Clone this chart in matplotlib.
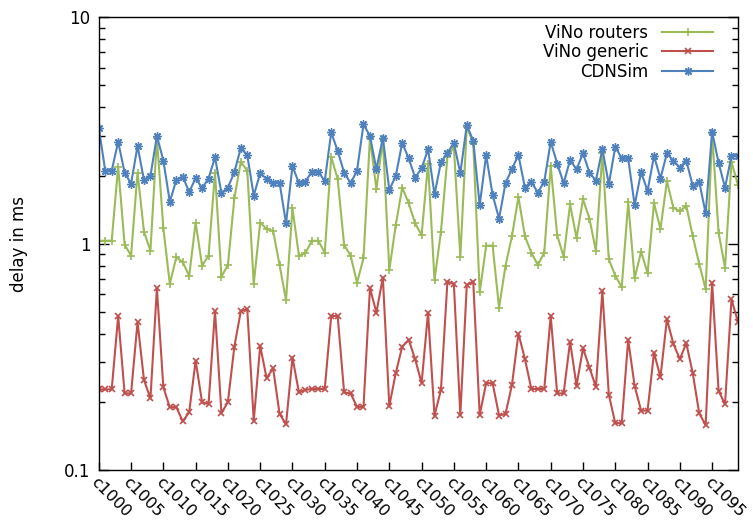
import matplotlib
matplotlib.use("Agg")
import matplotlib.pyplot as plt
from matplotlib.ticker import FixedLocator, LogLocator, NullFormatter, FixedFormatter

categories = [f"c{1000 + i}" for i in range(100)]
tick_labels = [f"c{1000 + i}" for i in range(0, 100, 5)]

vino_routers = [
    1.03, 1.03, 1.03, 2.19, 0.99, 0.885, 2.06, 1.13, 0.93, 2.92,
    1.17, 0.664, 0.87, 0.83, 0.72, 1.24, 0.80, 0.885, 2.06, 0.715,
    0.805, 1.59, 2.30, 2.10, 0.664, 1.24, 1.16, 1.14, 0.805, 0.564,
    1.43, 0.885, 0.907, 1.03, 1.03, 0.912, 2.42, 1.93, 0.987, 0.885,
    0.673, 0.862, 2.94, 1.74, 2.89, 0.765, 1.21, 1.77, 1.51, 1.23,
    1.09, 2.26, 0.69, 1.13, 2.41, 2.67, 0.876, 3.29, 2.78, 0.61,
    0.98, 0.98, 0.52, 0.80, 1.08, 1.61, 1.08, 0.912, 0.805, 0.912,
    2.20, 1.09, 0.876, 1.49, 1.06, 1.57, 1.29, 0.93, 2.51, 0.853,
    0.722, 0.642, 1.52, 0.703, 0.922, 0.74, 1.51, 1.16, 1.89, 1.44,
    1.39, 1.47, 1.08, 0.813, 0.63, 3.07, 1.12, 0.783, 2.30, 1.82,
]

vino_generic = [
    0.227, 0.227, 0.227, 0.479, 0.218, 0.218, 0.45, 0.25, 0.207, 0.636,
    0.232, 0.189, 0.19, 0.164, 0.18, 0.304, 0.199, 0.196, 0.504, 0.178,
    0.20, 0.351, 0.504, 0.513, 0.165, 0.353, 0.254, 0.282, 0.177, 0.159,
    0.314, 0.22, 0.226, 0.228, 0.228, 0.228, 0.479, 0.479, 0.22, 0.218,
    0.19, 0.19, 0.636, 0.496, 0.708, 0.192, 0.268, 0.351, 0.376, 0.309,
    0.242, 0.496, 0.174, 0.226, 0.68, 0.662, 0.175, 0.657, 0.68, 0.175,
    0.242, 0.242, 0.174, 0.177, 0.238, 0.40, 0.31, 0.228, 0.228, 0.228,
    0.479, 0.218, 0.218, 0.369, 0.236, 0.345, 0.283, 0.233, 0.618, 0.215,
    0.161, 0.161, 0.376, 0.235, 0.183, 0.183, 0.33, 0.257, 0.464, 0.361,
    0.309, 0.363, 0.268, 0.178, 0.158, 0.673, 0.224, 0.195, 0.568, 0.452,
]

cdnsim = [
    3.24, 2.10, 2.10, 2.82, 2.06, 1.84, 2.70, 1.91, 1.99, 2.99,
    2.33, 1.53, 1.91, 1.98, 1.69, 1.95, 1.76, 1.94, 2.41, 1.67,
    1.77, 2.07, 2.65, 2.46, 1.63, 2.05, 1.93, 1.86, 1.86, 1.23,
    2.20, 1.85, 1.88, 2.08, 2.08, 1.89, 3.10, 2.57, 2.06, 1.85,
    2.10, 3.37, 2.99, 2.13, 2.94, 1.73, 1.99, 2.79, 2.38, 1.96,
    2.15, 2.61, 1.65, 2.29, 2.52, 2.78, 2.05, 3.34, 2.85, 1.48,
    2.46, 1.64, 1.29, 1.85, 2.14, 2.46, 1.77, 1.88, 1.68, 1.88,
    2.82, 2.26, 1.85, 2.34, 2.13, 2.51, 2.06, 1.90, 2.62, 1.83,
    2.68, 2.38, 2.38, 1.48, 2.07, 1.71, 2.44, 1.94, 2.51, 2.32,
    2.17, 2.33, 1.80, 1.88, 1.36, 3.12, 2.28, 1.77, 2.44, 2.44,
]

GREEN = "#9bbb59"
RED = "#c0504d"
BLUE = "#4f81bd"

fig = plt.figure(figsize=(7.53, 5.25), dpi=100)
ax = fig.add_axes([0.1312, 0.1048, 0.8488, 0.8622])

x = list(range(len(categories)))
ax.plot(x, vino_routers, color=GREEN, lw=1.5, marker="+", ms=6, mew=1.2, label="ViNo routers")
ax.plot(x, vino_generic, color=RED, lw=1.5, marker="x", ms=5, mew=1.2, label="ViNo generic")
ax.plot(x, cdnsim, color=BLUE, lw=1.5, marker=(8, 2, 0), ms=6, mew=1.0, label="CDNSim")

ax.set_yscale("log")
ax.set_ylim(0.1, 10)
ax.set_xlim(0, len(categories) - 1)

ax.yaxis.set_major_locator(FixedLocator([0.1, 1, 10]))
ax.yaxis.set_major_formatter(FixedFormatter(["0.1", "1", "10"]))
ax.yaxis.set_minor_locator(LogLocator(base=10, subs=range(2, 10)))
ax.yaxis.set_minor_formatter(NullFormatter())

ax.set_xticks(list(range(0, len(categories), 5)))
ax.set_xticklabels(tick_labels, rotation=-45, ha="left", va="top", rotation_mode="anchor", fontsize=11.5)

ax.tick_params(axis="y", which="major", direction="in", length=7, width=1, right=True, labelsize=12, pad=6)
ax.tick_params(axis="y", which="minor", direction="in", length=4, width=1, right=True)
ax.tick_params(axis="x", which="major", direction="in", length=6, width=1, top=False, pad=3)

for s in ax.spines.values():
    s.set_color("black")
    s.set_linewidth(1.0)

ax.set_ylabel("delay in ms", fontsize=12, labelpad=26)

ax.legend(loc="upper right", frameon=False, markerfirst=False, fontsize=12,
          handlelength=3.1, handletextpad=0.8, labelspacing=0.1,
          borderaxespad=0.3, bbox_to_anchor=(0.98, 1.012))
leg = ax.get_legend()
for t in leg.get_texts():
    t.set_ha("right")

fig.savefig("out.png", dpi=100)
